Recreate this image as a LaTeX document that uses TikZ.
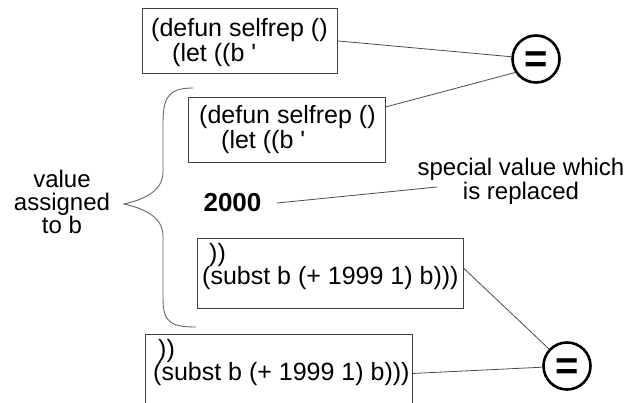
\documentclass[tikz,border=0pt]{standalone}
\usepackage{fontspec}
\setmainfont{Liberation Sans}
\usetikzlibrary{calc}
\tikzset{
  codebox/.style={draw=black!75, line width=0.9pt, inner sep=0pt, anchor=north west},
  codeline/.style={inner sep=0pt, anchor=base west, font=\fontsize{25}{25}\selectfont},
  eqcircle/.style={circle, draw=black, line width=2.6pt, minimum size=47pt, inner sep=0pt},
  eqsign/.style={inner sep=0pt, anchor=base, font=\bfseries\fontsize{40}{40}\selectfont},
  link/.style={draw=black!70, line width=0.8pt},
  note/.style={inner sep=0pt, anchor=base, font=\fontsize{24}{24}\selectfont},
  bracepath/.style={draw=black!60, line width=0.9pt},
}
\begin{document}
\begin{tikzpicture}[x=1pt,y=-1pt]
\useasboundingbox (0,0) rectangle (640,403);
\clip (0,0) rectangle (640,403);

% code fragments in boxes
\node[codebox, minimum width=195pt, minimum height=65pt] (b1) at (142,8) {};
\node[codeline] (t1a) at (151,37) {(defun selfrep ()};
\node[codeline] (t1b) at (172,62) {(let ((b \textquotesingle};

\node[codebox, minimum width=197pt, minimum height=65pt] (b2) at (188,97) {};
\node[codeline] (t2a) at (199,124) {(defun selfrep ()};
\node[codeline] (t2b) at (221,149) {(let ((b \textquotesingle};

\node[codebox, minimum width=266pt, minimum height=70pt] (b3) at (197,238) {};
\node[codeline] (t3a) at (209,262) {))};
\node[codeline] (t3b) at (202,285) {(subst b (+ 1999 1) b)))};

\node[codebox, minimum width=267pt, minimum height=75pt] (b4) at (145,334) {};
\node[codeline] (t4a) at (158,358) {))};
\node[codeline] (t4b) at (153,381) {(subst b (+ 1999 1) b)))};

% equality marks
\node[eqcircle] (c1) at (536,59) {};
\node[eqsign] (e1) at (536,72.5) {=};
\node[eqcircle] (c2) at (567,366) {};
\node[eqsign] (e2) at (567,379.5) {=};

% the special value and its note
\node[inner xsep=15pt, inner ysep=0pt, anchor=base, font=\bfseries\fontsize{26}{26}\selectfont] (n2000) at (232.5,212) {2000};
\node[note] (sp1) at (521,176) {special value which};
\node[note] (sp2) at (521,200) {is replaced};
\coordinate (spend) at (437,187);

% value assigned to b
\node[note] (v1) at (62,188) {value};
\node[note] (v2) at (62,211) {assigned};
\node[note] (v3) at (62,234) {to b};

% brace
\draw[bracepath] (193,88) .. controls (166,88) and (163,100) .. (163,125)
  -- (163,172) .. controls (163,192) and (142,200) .. (124,204)
  .. controls (142,208) and (163,216) .. (163,236)
  -- (163,298) .. controls (163,322) and (170,327) .. (196,327);

% connectors
\coordinate (p2) at ($(b2.north east)!0.15!(b2.south east)$);
\coordinate (p3) at ($(b3.north east)!0.43!(b3.south east)$);
\coordinate (p4) at ($(b4.north east)!0.52!(b4.south east)$);
\draw[link] (b1.east) -- (c1);
\draw[link] (p2) -- (c1.213);
\draw[link] (p3) -- (c2);
\draw[link] (p4) -- (c2);
\draw[link] (n2000.east) -- (spend);
\end{tikzpicture}
\end{document}
